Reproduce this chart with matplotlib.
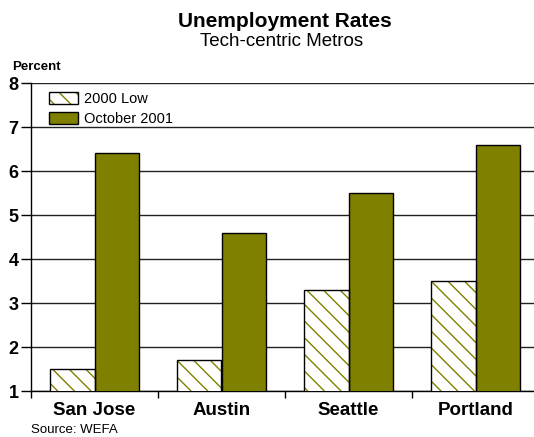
import matplotlib
matplotlib.use("Agg")
import matplotlib.pyplot as plt
from matplotlib.patches import Patch
from matplotlib.legend_handler import HandlerTuple
import numpy as np

plt.rcParams['font.family'] = ['Liberation Sans', 'DejaVu Sans']
plt.rcParams['hatch.linewidth'] = 1.0

metros = ["San Jose", "Austin", "Seattle", "Portland"]
low_2000 = [1.5, 1.7, 3.3, 3.5]
oct_2001 = [6.4, 4.6, 5.5, 6.6]
series_labels = ["2000 Low", "October 2001"]
y_ticks = [1, 2, 3, 4, 5, 6, 7, 8]

OLIVE = "#808000"

W, H = 534, 437
fig = plt.figure(figsize=(W / 100, H / 100), dpi=100)
fig.patch.set_facecolor("white")

# plot area (extends slightly past the right edge of the canvas)
ax = fig.add_axes([31 / W, (H - 391) / H, 508 / W, 308 / H])

x = np.arange(len(metros))
bw = 0.354

# hatched bars: hatch drawn in olive, outline drawn in black on top
ax.bar(x - bw / 2, low_2000, bw, bottom=0, color="white", edgecolor=OLIVE,
       hatch="\\\\", linewidth=0, zorder=3)
ax.bar(x - bw / 2, low_2000, bw, fill=False, edgecolor="black",
       linewidth=1.0, zorder=4)
ax.bar(x + bw / 2, oct_2001, bw, color=OLIVE, edgecolor="black",
       linewidth=1.0, zorder=3)

ax.set_ylim(1, 8)
ax.set_xlim(-0.5, len(metros) - 0.5)
ax.set_yticks(y_ticks)
ax.set_yticklabels([str(v) for v in y_ticks], fontsize=13, fontweight="bold")
ax.yaxis.grid(True, color="#222222", linewidth=1.0, zorder=0)
ax.set_axisbelow(True)

# category labels centred, ticks at category boundaries
ax.set_xticks(x)
ax.set_xticklabels(metros, fontsize=13.5, fontweight="bold")
ax.tick_params(axis="x", which="major", length=0, pad=8)
ax.set_xticks(np.arange(len(metros) + 1) - 0.5, minor=True)
ax.tick_params(axis="x", which="minor", length=5, width=1.0, direction="out")
ax.tick_params(axis="y", length=7, width=1.0, pad=2, direction="out")

for side in ("top", "right"):
    ax.spines[side].set_visible(False)
for side in ("left", "bottom"):
    ax.spines[side].set_linewidth(1.0)
    ax.spines[side].set_color("black")

# legend
h_hatch = Patch(facecolor="white", edgecolor=OLIVE, hatch="\\\\", linewidth=0)
h_outline = Patch(fill=False, edgecolor="black", linewidth=1.0)
h_oct = Patch(facecolor=OLIVE, edgecolor="black", linewidth=1.0)
leg = ax.legend([(h_hatch, h_outline), h_oct], series_labels,
                handler_map={tuple: HandlerTuple(ndivide=1, pad=0)},
                loc="upper left", bbox_to_anchor=(39 / W, (H - 82) / H),
                bbox_transform=fig.transFigure, frameon=False,
                fontsize=10.5, handlelength=2.0, handleheight=0.85,
                handletextpad=0.4, labelspacing=0.38, borderpad=0.2)
leg.set_zorder(5)

fig.text(0.533, 1 - 27 / H, "Unemployment Rates", ha="center",
         va="baseline", fontsize=15, fontweight="bold")
fig.text(0.527, 1 - 46 / H, "Tech-centric Metros", ha="center",
         va="baseline", fontsize=13.5)
fig.text(12 / W, 1 - 70 / H, "Percent", ha="left", va="baseline",
         fontsize=9.5, fontweight="bold")
fig.text(31 / W, 1 - 433 / H, "Source: WEFA", ha="left", va="baseline",
         fontsize=9.5)

fig.savefig("out.png", dpi=100)
